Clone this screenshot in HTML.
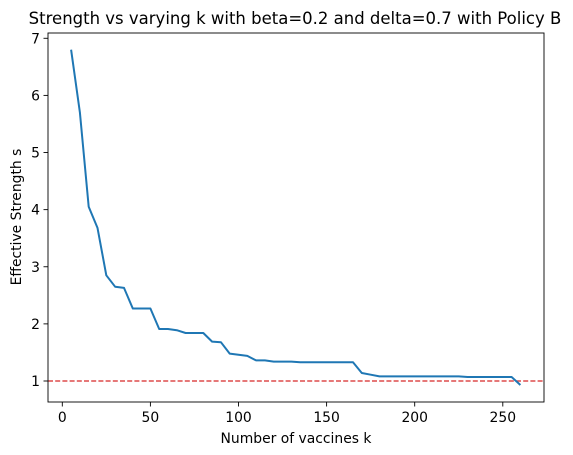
<!DOCTYPE html>
<html><head><meta charset="utf-8"><style>
body{margin:0;background:#fff;}
svg{display:block;font-family:"DejaVu Sans","Liberation Sans",sans-serif;}
</style></head><body>
<svg id="chart" width="573" height="455">
<text x="295" y="24" font-size="16.5" text-anchor="middle">Strength vs varying k with beta=0.2 and delta=0.7 with Policy B</text>
<g id="axes"></g>
<text x="296" y="443" font-size="13.9" text-anchor="middle">Number of vaccines k</text>
<text transform="translate(21,217) rotate(-90)" font-size="13.9" text-anchor="middle">Effective Strength s</text>
</svg>
<script>
const kValues=[5,10,15,20,25,30,35,40,45,50,55,60,65,70,75,80,85,90,95,100,105,110,115,120,125,130,135,140,145,150,155,160,165,170,175,180,185,190,195,200,205,210,215,220,225,230,235,240,245,250,255,260];
const strength=[6.8,5.7,4.05,3.68,2.85,2.65,2.63,2.27,2.27,2.27,1.91,1.91,1.89,1.84,1.84,1.84,1.69,1.68,1.48,1.46,1.44,1.36,1.36,1.34,1.34,1.34,1.33,1.33,1.33,1.33,1.33,1.33,1.33,1.14,1.11,1.08,1.08,1.08,1.08,1.08,1.08,1.08,1.08,1.08,1.08,1.07,1.07,1.07,1.07,1.07,1.07,0.93];
const xTicks=[0,50,100,150,200,250];
const yTicks=[1,2,3,4,5,6,7];
const threshold=1;
const L=48,R=544,T=33,B=402;
const xs=k=>62.3+(k-0)*1.762;
const ys=v=>381-(v-1)*57.12;
const NS="http://www.w3.org/2000/svg";
const g=document.getElementById('axes');
function mk(tag,attrs){const e=document.createElementNS(NS,tag);for(const a in attrs)e.setAttribute(a,attrs[a]);g.appendChild(e);return e;}
xTicks.forEach(t=>{
  const l=mk('line',{x1:xs(t),x2:xs(t),y1:B,y2:B+4.5,stroke:'#000','stroke-width':0.9});
  
  
  const tx=mk('text',{x:xs(t),y:B+20,'font-size':13.9,'text-anchor':'middle'});
  tx.textContent=t;
  
  
});
yTicks.forEach(t=>{
  const l=mk('line',{x1:L-4.5,x2:L,y1:ys(t),y2:ys(t),stroke:'#000','stroke-width':0.9});
  
  
  const tx=mk('text',{x:L-8,y:ys(t)+5,'font-size':13.9,'text-anchor':'end'});
  tx.textContent=t;
  
  
});
const th=mk('line',{x1:L,x2:R,y1:ys(threshold),y2:ys(threshold),stroke:'#d62728','stroke-width':1.3,'stroke-dasharray':'5,2.2'});


const pts=kValues.map((k,i)=>xs(k).toFixed(1)+','+ys(strength[i]).toFixed(1)).join(' ');
const pl=mk('polyline',{points:pts,fill:'none',stroke:'#1f77b4','stroke-width':2,'stroke-linejoin':'round'});


const fr=mk('rect',{x:L,y:T,width:R-L,height:B-T,fill:'none',stroke:'#000','stroke-width':0.9});


</script>
</body></html>
